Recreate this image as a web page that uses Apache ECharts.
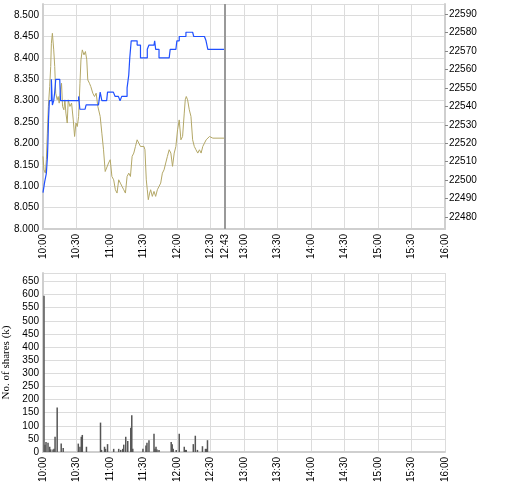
<!DOCTYPE html>
<html>
<head>
<meta charset="utf-8">
<script src="https://cdn.jsdelivr.net/npm/echarts@6/dist/echarts.min.js"></script>
<style>html,body{margin:0;padding:0;background:#fff}#chart{width:520px;height:500px}</style>
</head>
<body>
<div id="chart"></div>
<script>
// minutes after 10:00
const xTicks = [0, 30, 60, 90, 120, 150, 180, 210, 240, 270, 300, 330, 360];
const lastTrade = 163;
const priceLabels = [8.0, 8.05, 8.1, 8.15, 8.2, 8.25, 8.3, 8.35, 8.4, 8.45, 8.5];
const indexLabels = [22480, 22490, 22500, 22510, 22520, 22530, 22540, 22550, 22560, 22570, 22580, 22590];
const volLabels = [0, 50, 100, 150, 200, 250, 300, 350, 400, 450, 500, 550, 600, 650];

const price = [
  [0, 8.085], [1.5, 8.11], [3, 8.13], [4, 8.17], [4.5, 8.21], [5, 8.26], [5.7, 8.30], [6.6, 8.30],
  [7.5, 8.35], [8.4, 8.29], [9.6, 8.30], [10.5, 8.32], [11.4, 8.35], [15, 8.35], [15.7, 8.30],
  [30, 8.30], [31.9, 8.31], [33, 8.28], [37.7, 8.28], [38.6, 8.29], [49.7, 8.29], [51.2, 8.32],
  [52.7, 8.30], [57, 8.30], [57.8, 8.32], [63, 8.32], [64.6, 8.31], [67.5, 8.31], [69, 8.30],
  [70.5, 8.31], [73.5, 8.31], [75.3, 8.33], [76.8, 8.36], [77.7, 8.40], [79, 8.44], [82, 8.44],
  [84.3, 8.43], [87.3, 8.40], [91, 8.40], [93.4, 8.42], [94.9, 8.43], [99.4, 8.43], [100, 8.44],
  [100.9, 8.42], [103.9, 8.40], [113, 8.40], [113.9, 8.42], [119, 8.42], [119.9, 8.44], [122, 8.45],
  [125, 8.45], [128, 8.46], [134, 8.46], [135, 8.45], [144.6, 8.45], [146, 8.44], [147.6, 8.42], [163, 8.42]
];

const hsi = [
  [0, 22512.9], [0.9, 22505.6], [2.1, 22503.8], [3, 22511.1], [3.9, 22525.5], [4.8, 22540.0],
  [6, 22550.8], [6.9, 22561.7], [7.5, 22574.3], [8.4, 22579.7], [9, 22580.6], [9.6, 22570.7],
  [10.5, 22561.7], [11.4, 22547.2], [12.7, 22543.6], [13.6, 22545.4], [14.5, 22541.8], [15.7, 22549.0],
  [16.6, 22552.6], [17.5, 22540.0], [18.7, 22538.2], [19.6, 22543.6], [20.5, 22536.4], [21.7, 22531.0],
  [22.6, 22543.6], [24.1, 22540.0], [25.6, 22541.8], [27.1, 22532.7], [28.3, 22523.7], [29.5, 22531.0],
  [30.7, 22529.1], [31.9, 22534.6], [33.1, 22552.6], [34, 22565.3], [35.2, 22570.7], [36.7, 22568.0],
  [38, 22569.8], [39.2, 22565.3], [40.1, 22554.4], [41.6, 22552.6], [42.8, 22550.8], [44.6, 22547.2],
  [46.1, 22545.4], [47.6, 22547.2], [49.1, 22540.0], [51.2, 22534.6], [52.7, 22525.5], [54.2, 22516.5],
  [55.7, 22504.7], [57.2, 22503.8], [58.7, 22509.3], [60.2, 22511.1], [61.7, 22502.0], [63.3, 22500.2],
  [64.8, 22494.8], [66.3, 22493.0], [67.8, 22500.2], [69.3, 22498.4], [70.8, 22496.6], [72.3, 22494.8],
  [73.8, 22493.0], [75.3, 22502.0], [76.8, 22503.8], [78.3, 22502.0], [79.8, 22512.9], [81.3, 22514.7],
  [82.8, 22518.3], [84.3, 22521.9], [85.8, 22520.1], [87.3, 22518.3], [88.9, 22518.3], [90.4, 22518.3],
  [91.3, 22516.5], [92.5, 22500.2], [93.4, 22494.8], [94.3, 22489.4], [95.5, 22493.0], [96.4, 22494.8],
  [97.9, 22491.2], [99.4, 22493.9], [100.9, 22491.2], [102.4, 22494.8], [103.9, 22496.6], [105.4, 22498.4],
  [106.9, 22503.8], [108.4, 22505.6], [109.9, 22509.3], [111.4, 22512.9], [113, 22516.5], [114.5, 22514.7],
  [116, 22507.5], [117.5, 22514.7], [119, 22518.3], [120.5, 22527.3], [122, 22532.7], [123.5, 22521.9],
  [125, 22523.7], [126.5, 22536.4], [127.4, 22543.6], [128.3, 22545.4], [129.5, 22543.6], [131, 22538.2],
  [132.5, 22534.6], [134, 22521.9], [135.5, 22518.3], [137, 22516.5], [138.6, 22514.7], [140.1, 22516.5],
  [141.6, 22514.7], [143.1, 22518.3], [144.6, 22520.1], [146.1, 22521.9], [147.6, 22521.9], [149.1, 22523.7],
  [150.6, 22522.8], [152.1, 22522.8], [163, 22522.8]
];

const volume = [
  [0.9, 595], [1.8, 28], [2.7, 38], [4.5, 35], [6, 20], [6.9, 10], [9, 10], [9.9, 12], [10.8, 58],
  [12.7, 170], [16.3, 32], [18.1, 15], [31.6, 32], [33.1, 20], [34.3, 58], [35.2, 65], [38.9, 20],
  [51.5, 112], [52.4, 8], [55.1, 20], [56, 12], [57.8, 30], [63.3, 12], [67.8, 12], [69.6, 8],
  [71.4, 12], [72.3, 28], [74.1, 58], [75.9, 42], [78.6, 92], [79.5, 140], [80.4, 12], [89.5, 12],
  [92.2, 25], [93.1, 35], [94.9, 45], [99.4, 70], [100.3, 12], [101.2, 20], [102.1, 10], [103.9, 8],
  [114.8, 38], [115.7, 30], [116.6, 12], [119.3, 8], [122, 70], [126.5, 20], [127.4, 8], [128.3, 8],
  [134.6, 30], [136.4, 62], [138.3, 8], [142.8, 22], [145.5, 12], [146.4, 12], [147.3, 45]
];

const font = 'Liberation Sans';
const gridLine = { show: true, lineStyle: { color: '#dcdcdc', width: 1 } };
const fmtTime = v => {
  const h = 10 + Math.floor(v / 60);
  const m = Math.round(v % 60);
  return h + ':' + (m < 10 ? '0' : '') + m;
};
const xBase = (grid, labels) => ({
  type: 'value', gridIndex: grid, min: 0, max: 360, interval: 30,
  axisLine: { lineStyle: { color: '#cfcfcf', width: 2 } },
  axisTick: { show: false },
  splitLine: gridLine,
  axisLabel: { customValues: labels, rotate: 90, formatter: fmtTime, color: '#000', fontFamily: font, fontSize: 10, margin: 5 }
});

const chart = echarts.init(document.getElementById('chart'));
chart.setOption({
  animation: false,
  grid: [
    { left: 43, right: 75, top: 4, bottom: 271, outerBoundsMode: 'none', containLabel: false },
    { left: 43, right: 75, top: 273, bottom: 48, outerBoundsMode: 'none', containLabel: false }
  ],
  xAxis: [
    xBase(0, xTicks.concat([lastTrade]).sort((a, b) => a - b)),
    xBase(1, xTicks)
  ],
  yAxis: [
    {
      type: 'value', gridIndex: 0, min: 8.0, max: 8.526, interval: 0.05, position: 'left',
      name: 'HKD', nameLocation: 'middle', nameGap: 34,
      nameTextStyle: { fontFamily: 'Liberation Serif', fontSize: 11, color: '#000' },
      axisLine: { show: true, lineStyle: { color: '#cfcfcf', width: 2 } },
      axisTick: { show: false },
      splitLine: gridLine,
      axisLabel: { customValues: priceLabels, formatter: v => v.toFixed(3), color: '#000', fontFamily: font, fontSize: 10, margin: 4 }
    },
    {
      type: 'value', gridIndex: 0, min: 22473.5, max: 22595.6, position: 'right',
      axisLine: { show: true, lineStyle: { color: '#cfcfcf', width: 2 } },
      axisTick: { show: true, customValues: indexLabels, length: 3, lineStyle: { color: '#888' } },
      splitLine: { show: false },
      axisLabel: { customValues: indexLabels, formatter: v => String(v), color: '#000', fontFamily: font, fontSize: 10, margin: 4 }
    },
    {
      type: 'value', gridIndex: 1, min: 0, max: 682, interval: 50, position: 'left',
      name: 'No. of shares (k)', nameLocation: 'middle', nameGap: 28,
      nameTextStyle: { fontFamily: 'Liberation Serif', fontSize: 11, color: '#000' },
      axisLine: { show: true, lineStyle: { color: '#cfcfcf', width: 2 } },
      axisTick: { show: false },
      splitLine: gridLine,
      axisLabel: { customValues: volLabels, color: '#000', fontFamily: font, fontSize: 10, margin: 4 }
    }
  ],
  series: [
    {
      type: 'line', xAxisIndex: 0, yAxisIndex: 1, data: hsi, symbol: 'none',
      lineStyle: { color: '#b3a766', width: 1 }
    },
    {
      type: 'line', xAxisIndex: 0, yAxisIndex: 0, data: price, symbol: 'none', step: 'end',
      lineStyle: { color: '#2050ff', width: 1.2 },
      markLine: {
        silent: true, symbol: 'none', label: { show: false },
        lineStyle: { color: '#999', width: 2, type: 'solid' },
        data: [{ xAxis: lastTrade }]
      }
    },
    {
      type: 'bar', xAxisIndex: 1, yAxisIndex: 2, data: volume, barWidth: 1.5,
      itemStyle: { color: '#555' }
    }
  ]
});
</script>
</body>
</html>
